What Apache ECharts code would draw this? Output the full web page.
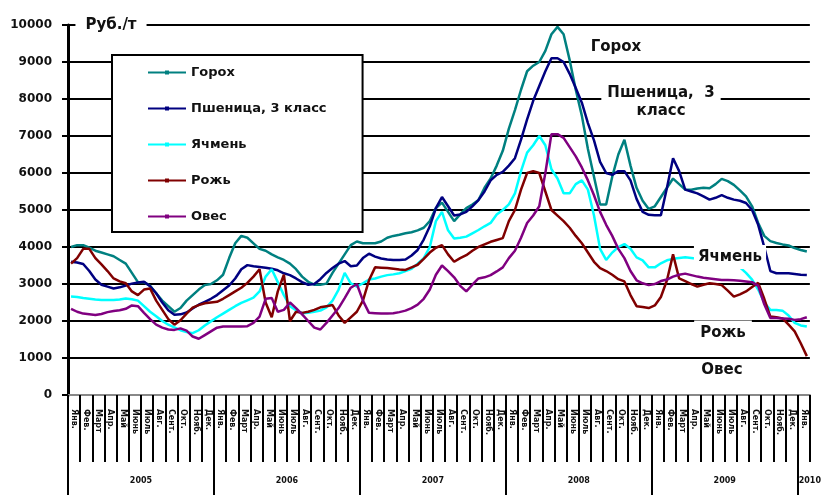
<!DOCTYPE html>
<html>
<head>
<meta charset="utf-8">
<script src="https://cdn.jsdelivr.net/npm/echarts@6/dist/echarts.min.js"></script>
<style>
html,body{margin:0;padding:0;background:#fff;}
#chart{width:824px;height:495px;}
</style>
</head>
<body>
<div id="chart"></div>
<script>
// ---- Data (semi-monthly readings, Jan 2005 .. Dec 2009), руб./т ----
const monthNames = ['Янв.','Фев.','Март','Апр.','Май','Июнь','Июль','Авг.','Сент.','Окт.','Нояб.','Дек.'];
const years = ['2005','2006','2007','2008','2009','2010'];
const seriesNames = ['Горох','Пшеница, 3 класс','Ячмень','Рожь','Овес'];

const gorokh = [
4000,4050,4050,3980,3900,3850,3800,3750,3650,3550,3300,3050,3050,2950,2750,2550,2400,2250,2350,2550,2700,2850,2970,3000,
3100,3250,3700,4100,4300,4250,4100,3950,3900,3800,3720,3650,3550,3400,3200,3060,2980,2980,3010,3300,3550,3800,4050,4150,
4100,4100,4100,4150,4250,4300,4330,4370,4400,4450,4520,4700,5050,5200,4950,4700,4880,5050,5150,5270,5600,5850,6200,6600,
7200,7700,8250,8750,8900,9000,9300,9750,9950,9750,9050,8250,7550,6650,5900,5150,5150,5900,6500,6900,6200,5600,5250,5030,
5100,5350,5600,5850,5700,5550,5550,5580,5600,5590,5700,5840,5780,5680,5530,5370,5100,4650,4300,4160,4110,4070,4040,3970,
3920,3880];

const wheat = [
3600,3580,3540,3350,3120,2980,2930,2880,2910,2960,3010,3040,3060,2940,2750,2500,2290,2170,2180,2230,2340,2440,2520,2600,
2700,2830,2960,3150,3400,3510,3480,3460,3440,3410,3370,3290,3240,3150,3050,2980,3000,3130,3300,3430,3550,3620,3480,3500,
3700,3820,3740,3690,3660,3650,3650,3660,3770,3920,4200,4560,5050,5350,5100,4850,4880,4950,5100,5270,5500,5800,5950,6030,
6200,6400,6900,7450,7950,8350,8750,9100,9100,9000,8680,8300,7900,7350,6880,6300,6000,5950,6050,6050,5800,5300,4950,4870,
4860,4860,5600,6400,6050,5550,5500,5450,5370,5280,5330,5400,5330,5280,5250,5190,5000,4600,4000,3350,3290,3290,3290,3270,
3250,3240];

const barley = [
2660,2650,2620,2600,2580,2570,2570,2570,2580,2610,2590,2550,2400,2250,2130,2000,1900,1830,1750,1700,1670,1750,1880,1990,
2100,2200,2300,2400,2490,2560,2630,2800,3200,3400,3050,2700,2400,2290,2210,2220,2250,2280,2370,2550,2850,3300,3020,2930,
3020,3120,3150,3200,3240,3260,3290,3350,3410,3550,3700,4000,4700,4950,4450,4230,4250,4280,4370,4460,4560,4650,4880,5000,
5150,5450,6050,6550,6750,7000,6750,6100,5850,5450,5450,5700,5800,5550,4850,3950,3650,3850,4000,4080,3950,3720,3640,3450,
3450,3560,3640,3680,3700,3720,3700,3680,3700,3650,3620,3600,3550,3500,3450,3300,3120,2850,2500,2300,2300,2280,2150,1950,
1880,1850];

const rye = [
3550,3700,3950,3950,3700,3530,3350,3150,3070,3020,2800,2700,2850,2880,2550,2300,2050,1900,2020,2200,2360,2430,2480,2500,
2520,2600,2700,2800,2900,3030,3200,3400,2500,2100,2800,3250,2000,2250,2220,2250,2300,2370,2400,2430,2150,1950,2100,2250,
2550,3100,3450,3440,3430,3410,3390,3380,3450,3520,3680,3850,3980,4050,3800,3600,3700,3780,3900,4000,4070,4140,4190,4240,
4700,5000,5550,6000,6050,6000,5500,5000,4850,4700,4520,4300,4100,3850,3600,3430,3350,3250,3130,3070,2700,2400,2380,2350,
2420,2650,3100,3800,3150,3080,3000,2930,2980,3020,3000,2970,2820,2660,2720,2800,2920,3030,2600,2120,2100,2070,1900,1720,
1400,1050];

const oats = [
2330,2250,2200,2180,2160,2190,2240,2270,2290,2330,2420,2400,2220,2050,1900,1820,1770,1760,1800,1740,1580,1520,1620,1720,
1820,1850,1850,1850,1850,1860,1950,2120,2600,2620,2250,2300,2500,2350,2180,2000,1820,1770,1950,2150,2350,2620,2900,3000,
2550,2220,2210,2200,2200,2210,2240,2280,2350,2440,2600,2850,3250,3500,3350,3180,2950,2800,2980,3150,3180,3240,3340,3450,
3700,3900,4250,4650,4850,5100,6000,7050,7050,6950,6700,6450,6150,5800,5400,4950,4600,4300,3950,3700,3350,3100,3020,2970,
3000,3080,3120,3200,3250,3280,3240,3200,3170,3150,3130,3110,3110,3100,3090,3070,3050,2950,2450,2080,2080,2070,2060,2030,
2050,2100];

const seriesValues = [gorokh, wheat, barley, rye, oats];
const seriesColors = ['#008080', '#000080', '#00ffff', '#800000', '#800080'];

// ---- Build ----
const monthCats = [];
years.forEach(function (y, yi) {
  const n = yi < years.length - 1 ? 12 : 1;
  for (let k = 0; k < n; k++) monthCats.push(monthNames[k]);
});
const nMonths = monthCats.length; // 61
const yearStarts = years.map(function (y, i) { return i * 12; });
const yearMids = years.map(function (y, i) { return i < years.length - 1 ? i * 12 + 6 : nMonths; });

const FONT = '"DejaVu Sans", sans-serif';

function toPoints(arr) {
  return arr.map(function (v, i) { return [0.25 + 0.5 * i, v]; });
}

const chart = echarts.init(document.getElementById('chart'), null, { renderer: 'canvas' });

const option = {
  animation: false,
  backgroundColor: '#fff',
  grid: { left: 68, right: 0, top: 25, bottom: 100, containLabel: false },
  xAxis: [
    { type: 'value', min: 0, max: nMonths, show: false, splitLine: { show: false } },
    {
      type: 'category', data: monthCats, position: 'bottom', boundaryGap: true,
      axisLine: { show: true, lineStyle: { color: '#888', width: 2 } },
      axisTick: { show: true, interval: 0, length: 67, lineStyle: { color: '#000', width: 2 } },
      axisLabel: { interval: 0, rotate: -90, margin: 14, fontSize: 8, fontWeight: 'bold', color: '#111', fontFamily: FONT },
      splitLine: { show: false }
    },
    {
      type: 'value', min: 0, max: nMonths, position: 'bottom',
      axisLine: { show: false },
      axisTick: { show: true, customValues: yearStarts, length: 100, lineStyle: { color: '#000', width: 2 } },
      axisLabel: {
        customValues: yearMids, margin: 82, fontSize: 8, fontWeight: 'bold', color: '#111', fontFamily: FONT,
        formatter: function (v) { return years[Math.min(years.length - 1, Math.floor(v / 12))]; }
      },
      splitLine: { show: false }
    }
  ],
  yAxis: {
    type: 'value', min: 0, max: 10000, interval: 1000,
    axisLine: { show: true, lineStyle: { color: '#000', width: 3 } },
    axisTick: { show: true, length: 6, lineStyle: { color: '#000', width: 2 } },
    axisLabel: {
      margin: 16, fontSize: 12, fontWeight: 'bold', color: '#111', fontFamily: FONT,
      formatter: function (v) { return String(v); }
    },
    splitLine: { show: true, lineStyle: { color: '#000', width: 2 } }
  },
  legend: {
    data: seriesNames,
    orient: 'vertical', left: 112, top: 55,
    padding: [11, 36, 9, 35],
    itemWidth: 38, itemHeight: 5, itemGap: 23,
    borderColor: '#000', borderWidth: 2, backgroundColor: '#fff',
    textStyle: { fontFamily: FONT, fontWeight: 'bold', fontSize: 13, color: '#111' }
  },
  series: seriesNames.map(function (name, i) {
    return {
      name: name, type: 'line', xAxisIndex: 0, yAxisIndex: 0,
      data: toPoints(seriesValues[i]),
      symbol: 'rect', symbolSize: 4, showSymbol: false, smooth: false,
      color: seriesColors[i],
      lineStyle: { width: 2.5, color: seriesColors[i] }
    };
  }),
  graphic: [
    { type: 'text', x: 111, y: 25, z: 100, style: { text: 'Руб./т', textAlign: 'center', textVerticalAlign: 'middle', font: 'bold 15px ' + FONT, fill: '#111', backgroundColor: '#fff', padding: [3, 10] } },
    { type: 'text', x: 616, y: 47, z: 100, style: { text: 'Горох', textAlign: 'center', textVerticalAlign: 'middle', font: 'bold 15px ' + FONT, fill: '#111', backgroundColor: '#fff', padding: [2, 4] } },
    { type: 'text', x: 661, y: 102, z: 100, style: { text: 'Пшеница,  3\nкласс', textAlign: 'center', textVerticalAlign: 'middle', lineHeight: 18, font: 'bold 15px ' + FONT, fill: '#111', backgroundColor: '#fff', padding: [2, 6] } },
    { type: 'text', x: 730, y: 257, z: 100, style: { text: 'Ячмень', textAlign: 'center', textVerticalAlign: 'middle', font: 'bold 15px ' + FONT, fill: '#111', backgroundColor: '#fff', padding: [6, 4, 3, 4] } },
    { type: 'text', x: 723, y: 333, z: 100, style: { text: 'Рожь', textAlign: 'center', textVerticalAlign: 'middle', font: 'bold 15px ' + FONT, fill: '#111', backgroundColor: '#fff', padding: [7, 6, 3, 6] } },
    { type: 'text', x: 722, y: 370, z: 100, style: { text: 'Овес', textAlign: 'center', textVerticalAlign: 'middle', font: 'bold 15px ' + FONT, fill: '#111', backgroundColor: '#fff', padding: [2, 4] } }
  ]
};

chart.setOption(option);
</script>
</body>
</html>
